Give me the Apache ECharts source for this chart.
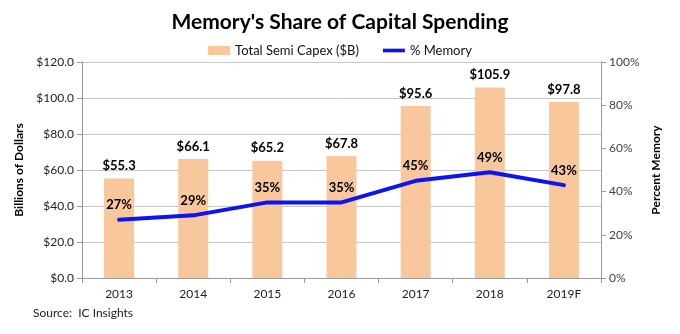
<!DOCTYPE html>
<html>
<head>
<meta charset="utf-8">
<script src="https://cdn.jsdelivr.net/npm/echarts@6/dist/echarts.min.js"></script>
<style>
  html, body { margin: 0; padding: 0; background: #fff; }
  #chart { width: 680px; height: 334px; }
</style>
</head>
<body>
<div id="chart"></div>
<script>
// Semiconductor capital spending and memory's share of it, by year
const years = ['2013', '2014', '2015', '2016', '2017', '2018', '2019F'];
const capexBillions = [55.3, 66.1, 65.2, 67.8, 95.6, 105.9, 97.8];
const memoryShare = [27, 29, 35, 35, 45, 49, 43];
const leftTicks = [0, 20, 40, 60, 80, 100, 120];
const rightTicks = [0, 20, 40, 60, 80, 100];

const FONT = 'Lato, "Open Sans", sans-serif';
const LINE_BLUE = '#0A14F5';
const chart = echarts.init(document.getElementById('chart'), null, { renderer: 'canvas' });

chart.setOption({
  backgroundColor: '#ffffff',
  animation: false,
  textStyle: { fontFamily: FONT },
  title: {
    text: "Memory's Share of Capital Spending",
    left: 'center',
    top: 7,
    textStyle: { fontFamily: FONT, fontSize: 21, fontWeight: 'bold', color: '#000' }
  },
  legend: {
    top: 39,
    left: 'center',
    itemGap: 24,
    itemWidth: 22,
    itemHeight: 9,
    textStyle: { fontFamily: FONT, fontSize: 13, color: '#111' },
    data: [
      { name: 'Total Semi Capex ($B)', icon: 'rect' },
      { name: '% Memory', icon: 'path://M0,0 L24,0 L24,4 L0,4 Z',
        itemStyle: { color: LINE_BLUE, opacity: 1 } }
    ]
  },
  grid: { left: 82, right: 79, top: 62, bottom: 56 },
  xAxis: {
    type: 'category',
    data: years,
    boundaryGap: true,
    axisLine: { lineStyle: { color: '#9a9a9a' } },
    axisTick: { show: true, alignWithLabel: false, length: 5, lineStyle: { color: '#9a9a9a' } },
    axisLabel: { fontFamily: FONT, fontSize: 12, color: '#222', margin: 10 }
  },
  yAxis: [
    {
      type: 'value',
      min: leftTicks[0],
      max: leftTicks[leftTicks.length - 1],
      interval: 20,
      name: 'Billions of Dollars',
      nameLocation: 'middle',
      nameGap: 56,
      nameTextStyle: { fontFamily: FONT, fontSize: 12, fontWeight: 'bold', color: '#000' },
      axisLine: { show: true, lineStyle: { color: '#9a9a9a' } },
      axisTick: { show: true, length: 5, inside: false, lineStyle: { color: '#9a9a9a' } },
      axisLabel: { fontFamily: FONT, fontSize: 12, color: '#222', margin: 8,
        formatter: v => '$' + v.toFixed(1) },
      splitLine: { show: true, lineStyle: { color: '#c8c8c8', width: 1 } }
    },
    {
      type: 'value',
      min: rightTicks[0],
      max: rightTicks[rightTicks.length - 1],
      interval: 20,
      position: 'right',
      name: 'Percent Memory',
      nameLocation: 'middle',
      nameGap: 48,
      nameRotate: 90,
      nameTextStyle: { fontFamily: FONT, fontSize: 12, fontWeight: 'bold', color: '#000' },
      axisLine: { show: true, lineStyle: { color: '#9a9a9a' } },
      axisTick: { show: true, length: 5, lineStyle: { color: '#9a9a9a' } },
      axisLabel: { fontFamily: FONT, fontSize: 12, color: '#444', margin: 8,
        formatter: v => v + '%' },
      splitLine: { show: false }
    }
  ],
  series: [
    {
      name: 'Total Semi Capex ($B)',
      type: 'bar',
      yAxisIndex: 0,
      data: capexBillions,
      barWidth: 30,
      itemStyle: { color: '#F9C79C' },
      label: {
        show: true,
        position: 'top',
        distance: 6,
        fontFamily: FONT,
        fontSize: 13,
        fontWeight: 'bold',
        color: '#000',
        formatter: p => '$' + p.value.toFixed(1)
      }
    },
    {
      name: '% Memory',
      type: 'line',
      yAxisIndex: 1,
      data: memoryShare,
      smooth: false,
      showSymbol: true,
      symbol: 'circle',
      symbolSize: 0.5,
      lineStyle: { color: LINE_BLUE, width: 4, join: 'round', cap: 'round' },
      itemStyle: { color: LINE_BLUE },
      label: {
        show: true,
        position: 'top',
        distance: 8,
        fontFamily: FONT,
        fontSize: 13,
        fontWeight: 'bold',
        color: '#000',
        formatter: p => p.value + '%'
      },
      z: 3
    }
  ],
  graphic: [
    {
      type: 'text',
      left: 33,
      top: 307,
      style: { text: 'Source:  IC Insights', fontFamily: FONT, fontSize: 12, fill: '#222' }
    }
  ]
});
</script>
</body>
</html>
